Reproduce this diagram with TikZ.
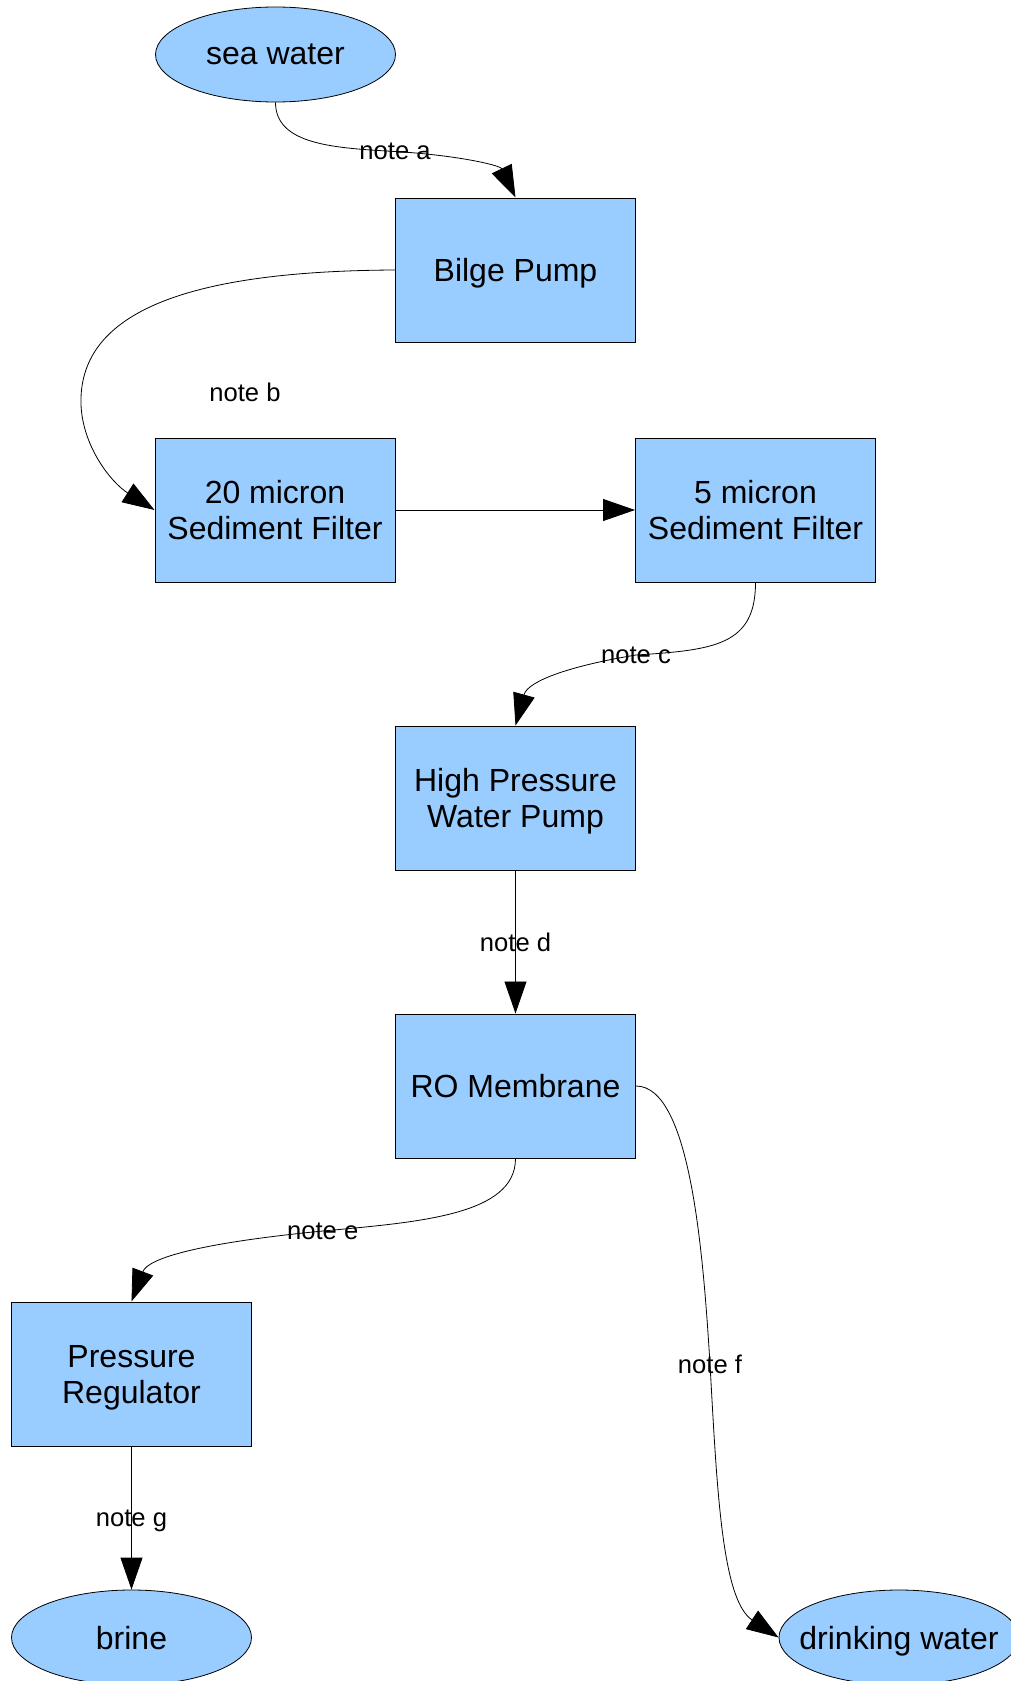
\documentclass[tikz,border=0pt]{standalone}
\usepackage{fontspec}
\setmainfont{Liberation Sans}
\usetikzlibrary{shapes.geometric,arrows.meta,calc,positioning}
\definecolor{boxblue}{HTML}{99CCFF}

\begin{document}
\begin{tikzpicture}[x=1pt,y=-1pt,
  pbox/.style={draw,fill=boxblue,rectangle,line width=1pt,minimum width=240pt,minimum height=144pt,inner sep=0pt,text depth=0pt,align=center,font=\fontsize{32}{36}\selectfont},
  pend/.style={draw,fill=boxblue,ellipse,line width=0.8pt,minimum width=240pt,minimum height=95pt,inner sep=0pt,text depth=0pt,font=\fontsize{32}{36}\selectfont},
  flow/.style={-{Triangle[length=32pt,width=22pt]},line width=0.8pt},
  notelbl/.style={font=\fontsize{25.6}{30}\selectfont,inner sep=0pt,text depth=0pt}]
\useasboundingbox (0,0) rectangle (1010,1681);
\node[pend] (sea)   at (275.5,54.5)   {sea water};
\node[pbox] (bilge) at (515.5,270)    {Bilge Pump};
\node[pbox] (f20)   at (275,510)      {20 micron\\Sediment Filter};
\node[pbox] (f5)    at (755.5,510)    {5 micron\\Sediment Filter};
\node[pbox] (hpp)   at (515.5,798)    {High Pressure\\Water Pump};
\node[pbox] (ro)    at (515.5,1086)   {RO Membrane};
\node[pbox] (preg)  at (131.5,1374)   {Pressure\\Regulator};
\node[pend] (brine) at (131.5,1637.5) {brine};
\node[pend] (drink) at (899,1637.5)   {\makebox[0pt]{drinking water}};
\draw[flow] (sea.south) .. controls (275.5,145) and (335,148) .. (395,151.5) node[notelbl] (na) {note a}
  .. controls (455,155) and (500,165) .. (bilge.north);
\draw[flow] (bilge.west) .. controls (180,271) and (78,315) .. (81,405)
  .. controls (83,448) and (112,483) .. (f20.west);
\node[notelbl] (nb) at (245,392) {note b};
\draw[flow] (f20) -- (f5);
\draw[flow] (f5.south) .. controls (755.5,645) and (715,650) .. (636,655) node[notelbl] (nc) {note c}
  .. controls (575,665) and (528,680) .. (hpp.north);
\draw[flow] (hpp) -- node[notelbl] (nd) {note d} (ro);
\draw[flow] (ro.south) .. controls (515.5,1215) and (420,1222) .. (322.7,1231) node[notelbl] (ne) {note e}
  .. controls (200,1243) and (148,1258) .. (preg.north);
\draw[flow] (ro.east) .. controls (690,1086) and (703,1250) .. (710,1364) node[notelbl] (nf) {note f}
  .. controls (717,1490) and (722,1600) .. (drink.west);
\draw[flow] (preg) -- node[notelbl] (ng) {note g} (brine);
\end{tikzpicture}
\end{document}
